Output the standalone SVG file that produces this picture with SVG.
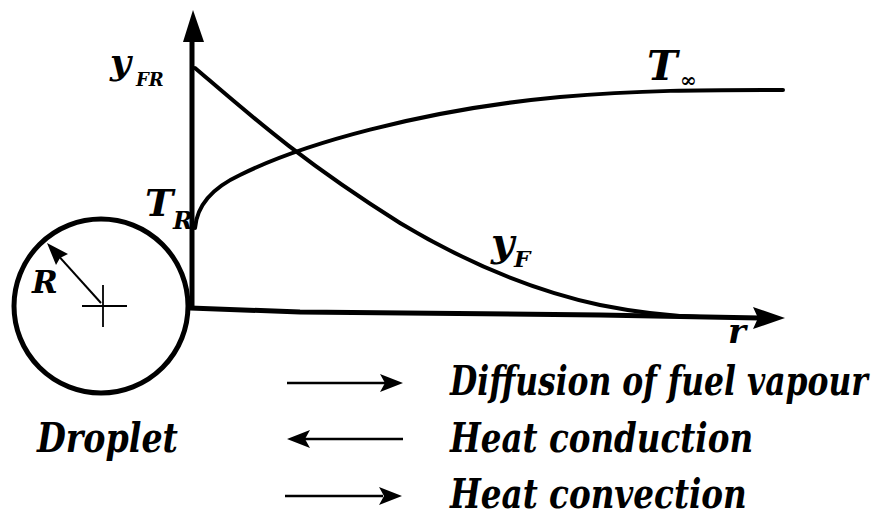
<svg xmlns="http://www.w3.org/2000/svg" width="882" height="521" viewBox="0 0 882 521">
<defs>
<style>
text{font-family:'DejaVu Serif',serif;font-style:italic;font-weight:bold;fill:#000}
.ax{stroke:#000;stroke-width:5;fill:none}
.cv{stroke:#000;stroke-width:4;fill:none;stroke-linecap:round}
.lg{stroke:#000;stroke-width:2.5;fill:none}
</style>
</defs>
<rect width="882" height="521" fill="#fff"/>
<g id="droplet">
<circle cx="101" cy="306" r="87" fill="none" stroke="#000" stroke-width="5"/>
<path d="M82,306 H127 M103,285 V327" stroke="#000" stroke-width="1.8" fill="none"/>
<path d="M101,303 L55,252" stroke="#000" stroke-width="2" fill="none"/>
<polygon points="47,243 68,254 60,258 56,265" fill="#000"/>
<text x="32" y="293" font-size="31">R</text>
<text x="37" y="452" font-size="41" textLength="141" lengthAdjust="spacingAndGlyphs">Droplet</text>
</g>
<g id="axes">
<path class="ax" d="M192,308 V38"/>
<polygon points="193,10 183,42 204,42" fill="#000"/>
<path class="ax" d="M190,308 L300,312 L600,315 L760,318"/>
<polygon points="785,318 753,307 758,318 753,329" fill="#000"/>
<text x="728" y="343" font-size="34">r</text>
</g>
<g id="curve-T">
<path class="cv" d="M195,228 C197,205 212,188 240,175 C300,145 420,110 560,97 C640,90 700,90 783,90"/>
<text x="145" y="216" font-size="38">T</text>
<text x="173" y="229" font-size="24">R</text>
<text x="647" y="80" font-size="41">T</text>
<text x="680" y="87" font-size="20">∞</text>
</g>
<g id="curve-yF">
<path class="cv" d="M195,68 C250,115 300,160 400,223 C470,265 540,292 600,305 C640,313 670,316 700,317"/>
<text x="110" y="74" font-size="36">y</text>
<text x="136" y="86" font-size="18">FR</text>
<text x="491" y="256" font-size="40">y</text>
<text x="514" y="267" font-size="23">F</text>
</g>
<g id="legend">
<path class="lg" d="M287,383 H385"/>
<polygon points="403,383 380,374 385,383 380,392" fill="#000"/>
<path class="lg" d="M305,439 H403"/>
<polygon points="287,439 310,430 305,439 310,448" fill="#000"/>
<path class="lg" d="M285,496 H383"/>
<polygon points="402,496 379,487 384,496 379,505" fill="#000"/>
<text transform="translate(450,395) scale(0.7,1)" font-size="41" textLength="597" lengthAdjust="spacingAndGlyphs">Diffusion of fuel vapour</text>
<text transform="translate(450,452) scale(0.7,1)" font-size="41" textLength="433" lengthAdjust="spacingAndGlyphs">Heat conduction</text>
<text transform="translate(450,508) scale(0.7,1)" font-size="41" textLength="424" lengthAdjust="spacingAndGlyphs">Heat convection</text>
</g>
</svg>
